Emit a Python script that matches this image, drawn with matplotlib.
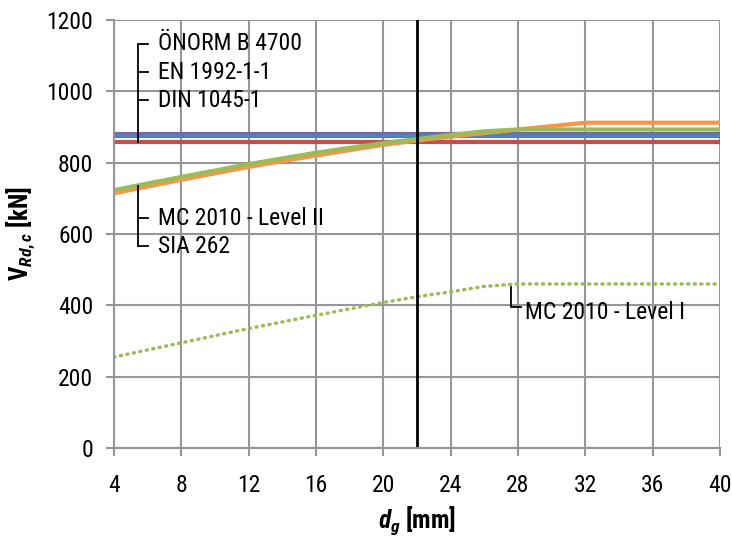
import matplotlib
matplotlib.use("Agg")
import matplotlib.pyplot as plt
from matplotlib import font_manager

# pick a narrow font if one is installed
names = {f.name for f in font_manager.fontManager.ttflist}
font = "DejaVu Sans"
for cand in ["Liberation Sans Narrow", "DejaVu Sans Condensed", "Roboto Condensed", "Liberation Sans"]:
    if cand in names:
        font = cand
        break

plt.rcParams['font.family'] = [font, 'DejaVu Sans']
plt.rcParams['mathtext.fontset'] = 'custom'
plt.rcParams['mathtext.rm'] = font + ':bold'
plt.rcParams['mathtext.it'] = font + ':bold:italic'
plt.rcParams['mathtext.bf'] = font + ':bold'

# data
dg = [4, 8, 12, 16, 20, 22, 24, 26, 28, 32, 36, 40]
onorm = [880] * len(dg)
en1992 = [874] * len(dg)
din1045 = [857] * len(dg)
mc_level2 = [723, 760, 796, 828, 855, 866, 878, 888, 893, 893, 893, 893]
sia262 = [714, 752, 788, 820, 850, 862, 873, 883, 893, 912, 912, 912]
mc_level1 = [255, 295, 335, 372, 408, 424, 438, 453, 460, 460, 460, 460]
dg_design = 22

fig = plt.figure(figsize=(7.32, 5.38), dpi=100)
ax = fig.add_axes([114 / 732, 90 / 538, 606 / 732, 428 / 538])

ax.plot(dg, onorm, color='#8064A2', lw=3, solid_capstyle='butt')
ax.plot(dg, en1992, color='#4F81BD', lw=3, solid_capstyle='butt')
ax.plot(dg, din1045, color='#C0504D', lw=3, solid_capstyle='butt')
ax.plot(dg, sia262, color='#F79646', lw=3, solid_capstyle='butt')
ax.plot(dg, mc_level2, color='#9BBB59', lw=3, solid_capstyle='butt')
ax.plot(dg, mc_level1, color='#9BBB59', lw=2.5, linestyle=(0, (0.3, 1.6)),
        dash_capstyle='round')
ax.axvline(dg_design, color='black', lw=2)

ax.set_xlim(4, 40)
ax.set_ylim(0, 1200)
ax.set_xticks(range(4, 41, 4))
ax.set_yticks(range(0, 1201, 200))
ax.grid(True, color='#969696', lw=1.5)
ax.set_axisbelow(True)
for s in ['top', 'right']:
    ax.spines[s].set_visible(False)
for s in ['left', 'bottom']:
    ax.spines[s].set_color('#969696')
    ax.spines[s].set_linewidth(1.5)
ax.tick_params(colors='#969696', labelcolor='black', labelsize=17, length=6, width=1.5)
ax.tick_params(axis='x', pad=13)
ax.tick_params(axis='y', pad=9)

ax.set_xlabel(r'$d_g$ [mm]', fontsize=18, fontweight='bold', labelpad=5)
ax.set_ylabel(r'$\mathrm{V}_{Rd,c}$ [kN]', fontsize=18, fontweight='bold', labelpad=7)

# brackets and labels
bx = 5.45
tx = 6.6
ax.plot([bx, bx], [1133, 857], color='black', lw=1.3)
for y, lab in [(1133, 'ÖNORM B 4700'), (1053, 'EN 1992-1-1'), (975, 'DIN 1045-1')]:
    ax.plot([bx, bx + 0.55], [y, y], color='black', lw=1.3)
    ax.text(tx, y, lab, fontsize=17, va='center')

ax.plot([bx, bx], [735, 565], color='black', lw=1.3)
for y, lab in [(644, 'MC 2010 - Level II'), (565, 'SIA 262')]:
    ax.plot([bx, bx + 0.55], [y, y], color='black', lw=1.3)
    ax.text(tx, y, lab, fontsize=17, va='center')

ax.plot([27.6, 27.6, 28.2], [452, 394, 394], color='black', lw=1.3)
ax.text(28.4, 380, 'MC 2010 - Level I', fontsize=17, va='center')

fig.savefig('out.png', dpi=100)
